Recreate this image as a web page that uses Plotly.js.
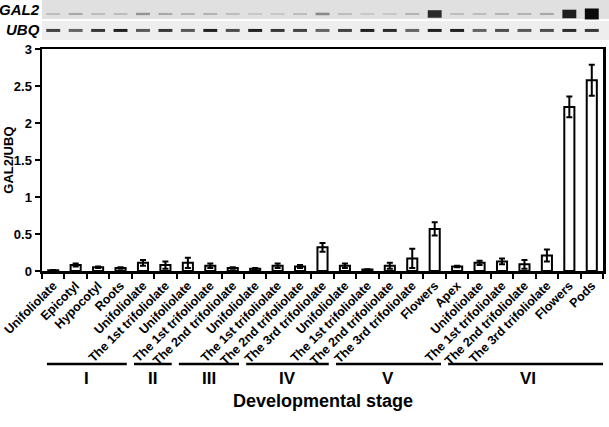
<!DOCTYPE html>
<html>
<head>
<meta charset="utf-8">
<script src="https://cdn.plot.ly/plotly-3.0.1.min.js"></script>
<style>
  html, body { margin: 0; padding: 0; background: #fff; }
  #chart { width: 609px; height: 427px; }
</style>
</head>
<body>
<div id="chart"></div>
<script>
// GAL2 relative expression across tissues and developmental stages
const tissues = [
  'Unifoliolate', 'Epicotyl', 'Hypocotyl', 'Roots',
  'Unifoliolate', 'The 1st trifoliolate',
  'Unifoliolate', 'The 1st trifoliolate', 'The 2nd trifoliolate',
  'Unifoliolate', 'The 1st trifoliolate', 'The 2nd trifoliolate', 'The 3rd trifoliolate',
  'Unifoliolate', 'The 1st trifoliolate', 'The 2nd trifoliolate', 'The 3rd trifoliolate', 'Flowers',
  'Apex', 'Unifoliolate', 'The 1st trifoliolate', 'The 2nd trifoliolate', 'The 3rd trifoliolate', 'Flowers', 'Pods'
];
const stage = ['I','I','I','I','II','II','III','III','III','IV','IV','IV','IV',
               'V','V','V','V','V','VI','VI','VI','VI','VI','VI','VI'];
const ratio = [0.01, 0.08, 0.05, 0.04, 0.11, 0.08, 0.11, 0.07, 0.04, 0.03, 0.07, 0.06, 0.32,
               0.07, 0.02, 0.07, 0.17, 0.57, 0.06, 0.11, 0.13, 0.09, 0.21, 2.22, 2.58];
const sd    = [0.005, 0.02, 0.01, 0.01, 0.04, 0.05, 0.07, 0.03, 0.01, 0.01, 0.03, 0.02, 0.06,
               0.03, 0.005, 0.04, 0.13, 0.09, 0.01, 0.03, 0.04, 0.06, 0.08, 0.14, 0.21];
// gel band darkness (0 = none, 1 = saturated)
const gal2Band = [0.15, 0.25, 0.15, 0.15, 0.35, 0.25, 0.2, 0.2, 0.15, 0.1, 0.1, 0.15, 0.4,
                  0.15, 0.1, 0.1, 0.2, 0.85, 0.15, 0.15, 0.2, 0.2, 0.25, 0.9, 1.0];
const ubqBand  = [0.75, 0.6, 0.8, 0.9, 0.65, 0.8, 0.65, 0.9, 0.7, 0.9, 0.8, 0.75, 0.6,
                  0.75, 0.9, 0.85, 0.6, 0.9, 0.9, 0.6, 0.7, 0.65, 0.7, 0.85, 0.8];

const idx = tissues.map((t, i) => i);
const FONT = 'Liberation Sans, Arial, sans-serif';
const grey = (v, top, span) => { const g = Math.round(top - span * v); return `rgb(${g},${g},${g})`; };

// stage groups -> first/last lane
const groups = [];
stage.forEach((s, i) => {
  const g = groups[groups.length - 1];
  if (g && g.name === s) g.last = i; else groups.push({ name: s, first: i, last: i });
});

const gal2H = gal2Band.map(v => 2 + 9 * v * v * v);
const traces = [
  {
    type: 'bar', x: idx, y: ratio, width: 0.45,
    marker: { color: '#fff', line: { color: '#000', width: 2 } },
    error_y: { type: 'data', array: sd, visible: true, color: '#000', thickness: 2, width: 3 },
    hoverinfo: 'y'
  },
  {
    type: 'bar', x: idx, y: gal2H, base: gal2H.map(h => 14 - h / 2), yaxis: 'y2', width: 0.62,
    marker: { color: gal2Band.map(v => grey(v, 220, 210)), line: { width: 0 } }, hoverinfo: 'skip'
  },
  {
    type: 'bar', x: idx, y: idx.map(() => 3), base: idx.map(() => 29), yaxis: 'y2', width: 0.62,
    marker: { color: ubqBand.map(v => grey(v, 235, 225)), line: { width: 0 } }, hoverinfo: 'skip'
  }
];

const bottomY = px => -(px - 271) / 271;   // paper y below the plot, from pixel row

const shapes = [
  { type: 'rect', xref: 'paper', yref: 'y2', x0: 0, x1: 1.011, y0: 0, y1: 19,
    fillcolor: '#e0e0e0', line: { width: 0 }, layer: 'below' },
  { type: 'rect', xref: 'paper', yref: 'y2', x0: 0, x1: 1.011, y0: 21, y1: 40,
    fillcolor: '#eeeeee', line: { width: 0 }, layer: 'below' }
];
const annotations = [
  { text: 'GAL2', xref: 'paper', yref: 'y2', x: -0.001, y: 10, xanchor: 'right', yanchor: 'middle',
    showarrow: false, borderpad: 0,
    font: { family: FONT, size: 15, weight: 'bold', style: 'italic', color: '#000' } },
  { text: 'UBQ', xref: 'paper', yref: 'y2', x: -0.001, y: 30, xanchor: 'right', yanchor: 'middle',
    showarrow: false, borderpad: 0,
    font: { family: FONT, size: 15, weight: 'bold', style: 'italic', color: '#000' } },
  // y-axis title placed by hand, just left of the tick labels
  { text: 'GAL2/UBQ', xref: 'paper', yref: 'y domain', x: -25 / 561, y: 0.5, textangle: -90,
    xanchor: 'right', borderpad: 0,
    showarrow: false, font: { family: FONT, size: 13, weight: 'bold', color: '#000' } },
  { text: 'Developmental stage', xref: 'paper', yref: 'paper', x: 0.5, y: bottomY(413), showarrow: false,
    font: { family: FONT, size: 18, weight: 'bold', color: '#000' } }
];
groups.forEach((g, k) => {
  const x0 = k === 0 ? g.first - 0.28 : g.first - 0.4;
  const x1 = k === groups.length - 1 ? g.last + 0.72 : g.last + 0.28;
  shapes.push({ type: 'line', xref: 'x', yref: 'paper', x0, x1, y0: bottomY(364), y1: bottomY(364),
    line: { color: '#000', width: 2.5 } });
  annotations.push({ text: g.name, xref: 'x', yref: 'paper', x: (x0 + x1) / 2, y: bottomY(390),
    showarrow: false, font: { family: FONT, size: 17, weight: 'bold', color: '#000' } });
});

const layout = {
  width: 609, height: 427,
  margin: { l: 42, r: 6, t: 0, b: 156 },
  paper_bgcolor: '#fff', plot_bgcolor: '#fff',
  showlegend: false, barmode: 'overlay',
  font: { family: FONT, color: '#000' },
  xaxis: {
    range: [-0.5, 24.5], tickvals: idx, ticktext: tissues, tickangle: -45,
    ticks: '', showgrid: false, zeroline: false,
    showline: true, linecolor: '#000', linewidth: 2.5, mirror: true,
    tickfont: { family: FONT, size: 12.5, weight: 'bold', color: '#000' },
    minor: { tickvals: idx.map(i => i - 0.5).concat([24.5]), ticks: 'outside', ticklen: 5,
             tickwidth: 2, tickcolor: '#000', showgrid: false }
  },
  yaxis: {
    domain: [0, 0.818], range: [0, 3], dtick: 0.5, ticks: 'outside', ticklen: 5, tickwidth: 2,
    tickcolor: '#000', showgrid: false, zeroline: false,
    showline: true, linecolor: '#000', linewidth: 2.5, mirror: true,
    tickfont: { family: FONT, size: 13, weight: 'bold', color: '#000' }
  },
  yaxis2: {
    domain: [0.838, 1], range: [44, 0], anchor: 'x', showgrid: false, zeroline: false,
    showticklabels: false, ticks: '', showline: false
  },
  shapes, annotations
};

Plotly.newPlot('chart', traces, layout, { displayModeBar: false, staticPlot: true });
</script>
</body>
</html>
